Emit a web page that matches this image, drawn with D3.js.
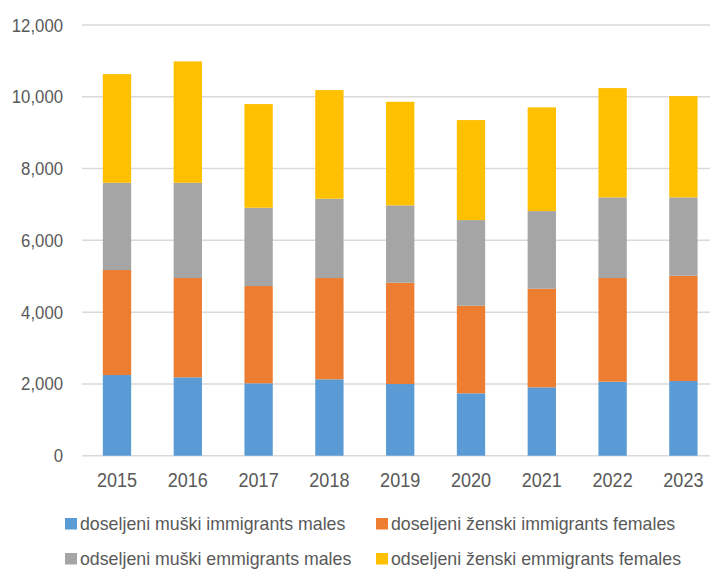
<!DOCTYPE html>
<html>
<head>
<meta charset="utf-8">
<script src="https://cdn.jsdelivr.net/npm/d3@7"></script>
<style>
  body { margin: 0; background: #fff; }
  text { font-family: "Liberation Sans", Arial, sans-serif; fill: #595959; }
</style>
</head>
<body>
<svg id="chart" width="710" height="572"></svg>
<script>
// data
var years = ["2015", "2016", "2017", "2018", "2019", "2020", "2021", "2022", "2023"];
var immMales   = [2248, 2184, 2017, 2128, 1997, 1738, 1905, 2061, 2081];
var immFemales = [2925, 2766, 2710, 2822, 2822, 2440, 2747, 2889, 2933];
var emmMales   = [2431, 2654, 2181, 2209, 2156, 2387, 2164, 2248, 2184];
var emmFemales = [3028, 3382, 2889, 3028, 2886, 2786, 2889, 3044, 2821];
var seriesNames = ["doseljeni muški immigrants males", "doseljeni ženski immigrants females",
    "odseljeni muški emmigrants males", "odseljeni ženski emmigrants females"];
var yTicks = [0, 2000, 4000, 6000, 8000, 10000, 12000];

var colors = ["#5b9bd5", "#ed7d31", "#a5a5a5", "#ffc000"];
var keys = ["im", "if", "em", "ef"];

var rows = years.map((y, i) => ({ year: y, im: immMales[i], if: immFemales[i], em: emmMales[i], ef: emmFemales[i] }));
var stacked = d3.stack().keys(keys)(rows);

var svg = d3.select("#chart");

var x = d3.scaleBand()
    .domain(years)
    .range([81.6, 718.8])
    .paddingInner(0.6)
    .paddingOuter(0.3);

var y = d3.scaleLinear()
    .domain([0, 12000])
    .range([455.7, 25]);

// gridlines
svg.append("g")
    .selectAll("line")
    .data(yTicks)
    .enter().append("line")
    .attr("x1", 82)
    .attr("x2", 710)
    .attr("y1", d => y(d))
    .attr("y2", d => y(d))
    .style("stroke", "#d9d9d9")
    .style("stroke-width", 1.5);

// y labels (narrow look via scaleX)
svg.append("g")
    .selectAll("text")
    .data(yTicks)
    .enter().append("text")
    .attr("transform", d => "translate(63," + (y(d) + 6.5) + ") scale(0.9,1)")
    .attr("text-anchor", "end")
    .style("font-size", "18.6px")
    .text(d => d3.format(",")(d));

// bars
svg.append("g")
    .selectAll("g")
    .data(stacked)
    .enter().append("g")
    .style("fill", (d, i) => colors[i])
    .selectAll("rect")
    .data(d => d)
    .enter().append("rect")
    .attr("x", d => x(d.data.year))
    .attr("width", x.bandwidth())
    .attr("y", d => y(d[1]))
    .attr("height", d => y(d[0]) - y(d[1]));

// x labels
svg.append("g")
    .selectAll("text")
    .data(years)
    .enter().append("text")
    .attr("transform", d => "translate(" + (x(d) + x.bandwidth() / 2) + ",486.7) scale(0.86,1)")
    .attr("text-anchor", "middle")
    .style("font-size", "21px")
    .text(d => d);

// legend
var legendPos = [[65, 518], [376, 518], [65, 553], [376, 553]];
var legend = svg.append("g")
    .selectAll("g")
    .data(seriesNames)
    .enter().append("g")
    .attr("transform", (d, i) => "translate(" + legendPos[i][0] + "," + legendPos[i][1] + ")");

legend.append("rect")
    .attr("x", 0)
    .attr("y", 0)
    .attr("width", 12)
    .attr("height", 11.5)
    .style("fill", (d, i) => colors[i]);

legend.append("text")
    .attr("transform", "translate(15,12) scale(0.96,1)")
    .style("font-size", "18.5px")
    .text(d => d);
</script>
</body>
</html>
